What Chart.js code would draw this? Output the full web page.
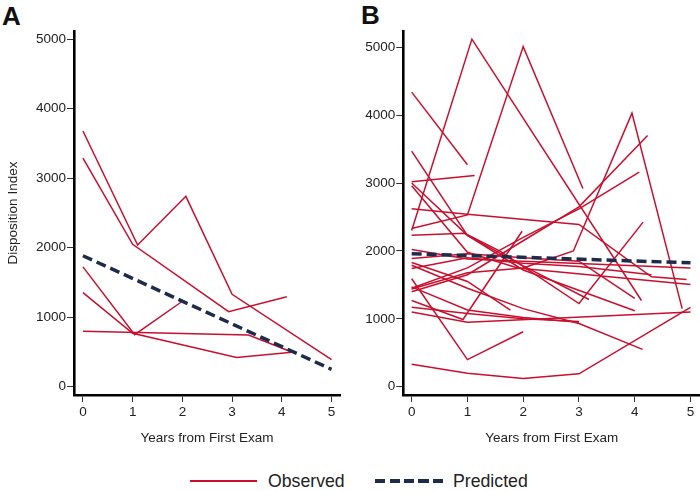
<!DOCTYPE html>
<html>
<head>
<meta charset="utf-8">
<script src="https://cdn.jsdelivr.net/npm/chart.js@4.4.0/dist/chart.umd.min.js"></script>
<style>
  body { margin: 0; background: #fff; width: 700px; height: 491px; overflow: hidden; position: relative;
         font-family: "Liberation Sans", Arial, sans-serif; }
  canvas { position: absolute; top: 0; }
  #chartA { left: 0; }
  #chartB { left: 350px; }
  .tag { position: absolute; font-weight: bold; font-size: 26px; line-height: 1; color: #111; }
  .swatch { position: absolute; }
  .lbl { position: absolute; font-size: 17.7px; line-height: 20px; color: #222; }
</style>
</head>
<body>
<div class="tag" style="left:2px; top:3px;">A</div>
<div class="tag" style="left:361px; top:2px;">B</div>
<canvas id="chartA" width="350" height="460"></canvas>
<canvas id="chartB" width="350" height="460"></canvas>

<div class="swatch" style="left:190px; top:480px; width:67px; height:2px; background:#c8102e;"></div>
<div class="lbl" style="left:268px; top:471px;">Observed</div>
<div class="swatch" style="left:375px; top:479px; width:68px; height:4px;
     background:repeating-linear-gradient(to right,#1d2b4c 0 10px,transparent 10px 14.5px);"></div>
<div class="lbl" style="left:453px; top:471px;">Predicted</div>

<script>
// tick values
const yearTicks = [0, 1, 2, 3, 4, 5];
const indexTicks = [0, 1000, 2000, 3000, 4000, 5000];

// panel A: each subject is a list of [years, disposition index]
const observedA = [
  [[0, 3680], [1.1, 2040], [2.07, 2740], [3, 1330], [5, 390]],
  [[0, 3290], [1, 2050], [2.93, 1080], [4.1, 1295]],
  [[0, 1725], [1.04, 750], [2, 1230]],
  [[0, 1355], [1, 770], [3.09, 420], [4.2, 495]],
  [[0, 800], [3.33, 745], [4.2, 500]]
];
const predictedA = [[0, 1885], [5, 250]];

// panel B
const observedB = [
  [[0, 4340], [1, 3270]],
  [[0, 2300], [1.08, 5120], [4.12, 1270]],
  [[0, 2330], [1, 2530], [2, 5010], [3.07, 2920]],
  [[0, 3020], [1.13, 3110]],
  [[0, 3470], [1, 2230], [2, 1780], [3.18, 1285]],
  [[0, 3000], [1, 2230], [2, 1720], [4, 1120]],
  [[0, 1270], [0.92, 990], [1.98, 2290]],
  [[0, 2620], [1, 2540], [3, 2390], [4.3, 1620], [4.93, 1580]],
  [[0, 2230], [0.95, 2260], [1.6, 1990], [3, 1225], [4.15, 2425]],
  [[0, 2020], [1, 1880], [5, 1750]],
  [[0, 2960], [1, 1980], [1.9, 1750], [5, 1505]],
  [[0, 330], [1, 200], [2, 120], [3, 190], [5, 1170]],
  [[0, 1590], [1, 400], [2, 810]],
  [[0, 1100], [1, 950], [5, 1100]],
  [[0, 1170], [1, 1080], [2, 1000], [3, 960]],
  [[0, 1440], [1, 1680], [2, 1750], [2.9, 2000], [3.95, 4030], [4.85, 1150]],
  [[0, 1400], [1, 1650], [2, 2150], [3, 2650], [4.23, 3700]],
  [[0, 1450], [1, 1750], [2, 2200], [3, 2620], [4.08, 3160]],
  [[0, 1830], [1, 1550], [1.77, 1130]],
  [[0, 1790], [1, 1450], [2, 1150], [3, 930], [4.14, 550]],
  [[0, 1740], [1, 1900], [2, 1820], [3, 1770], [4.3, 1650]],
  [[0, 1470], [1, 1130], [2, 1020], [3, 950]],
  [[0, 1890], [1, 1960], [2, 1900], [3, 1850], [4, 1300]]
];
const predictedB = [[0, 1960], [5, 1825]];

const RED = '#c8102e';
const NAVY = '#1d2b4c';
const FONT = { family: '"Liberation Sans", Arial, sans-serif', size: 13.5 };

function toPoints(list) {
  return list.map(p => ({ x: p[0], y: p[1] }));
}

function makePanel(id, observed, predicted, opts) {
  const datasets = [{
    data: toPoints(predicted),
    borderColor: NAVY,
    borderWidth: 3.5,
    borderDash: [10, 5],
    showLine: true,
    pointRadius: 0
  }];
  observed.forEach(s => datasets.push({
    data: toPoints(s),
    borderColor: RED,
    borderWidth: 1.5,
    showLine: true,
    pointRadius: 0
  }));

  return new Chart(document.getElementById(id), {
    type: 'scatter',
    data: { datasets },
    options: {
      responsive: false,
      animation: false,
      layout: { padding: { top: 31, right: opts.padRight, left: 0, bottom: 0 } },
      plugins: { legend: { display: false }, tooltip: { enabled: false } },
      scales: {
        x: {
          type: 'linear',
          min: opts.xMin,
          max: 5.17,
          afterBuildTicks: s => { s.ticks = yearTicks.map(v => ({ value: v })); },
          afterFit: s => { s.height = 65; },
          border: { display: true, color: '#000', width: 2.6 },
          grid: { drawOnChartArea: false, drawTicks: true, tickLength: 7, color: '#333' },
          ticks: { font: FONT, color: '#222', padding: 2, maxRotation: 0, callback: v => String(v) },
          title: { display: true, text: 'Years from First Exam', font: FONT, color: '#222',
                   padding: { top: 0, bottom: 14 } }
        },
        y: {
          min: opts.yMin,
          max: opts.yMax,
          afterBuildTicks: s => { s.ticks = indexTicks.map(v => ({ value: v })); },
          afterFit: s => { s.width = opts.yWidth; },
          border: { display: true, color: '#000', width: 2.6 },
          grid: { drawOnChartArea: false, drawTicks: true, tickLength: 7, color: '#333' },
          ticks: { font: FONT, color: '#222', padding: 1, callback: v => String(v) },
          title: { display: opts.yTitle, text: 'Disposition Index', font: FONT, color: '#222',
                   padding: { top: 5, bottom: 0 } }
        }
      }
    }
  });
}

makePanel('chartA', observedA, predictedA,
  { xMin: -0.18, yMin: -119, yMax: 5119, yWidth: 74, padRight: 10, yTitle: true });
makePanel('chartB', observedB, predictedB,
  { xMin: -0.15, yMin: -122, yMax: 5240, yWidth: 53.3, padRight: 0, yTitle: false });
</script>
</body>
</html>
